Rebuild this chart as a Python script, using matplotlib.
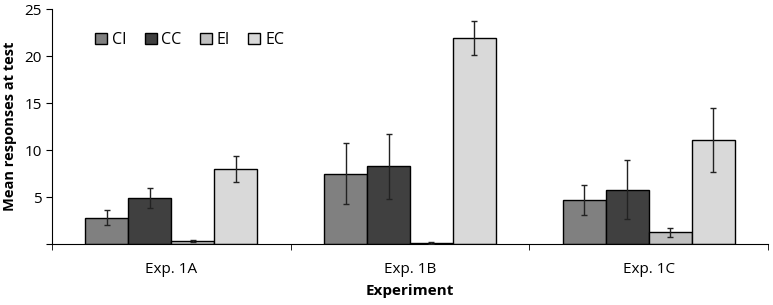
import matplotlib.pyplot as plt
import numpy as np

plt.rcParams['font.family'] = ['Open Sans', 'DejaVu Sans']

experiments = ['Exp. 1A', 'Exp. 1B', 'Exp. 1C']
conditions = ['CI', 'CC', 'EI', 'EC']
colors = ['#808080', '#404040', '#c0c0c0', '#d9d9d9']

# mean responses per condition, one value per experiment
means = {
    'CI': [2.8, 7.5, 4.7],
    'CC': [4.9, 8.3, 5.8],
    'EI': [0.3, 0.1, 1.25],
    'EC': [8.0, 22.0, 11.1],
}
errors = {
    'CI': [0.8, 3.25, 1.6],
    'CC': [1.05, 3.45, 3.15],
    'EI': [0.1, 0.08, 0.5],
    'EC': [1.4, 1.8, 3.45],
}

fig = plt.figure(figsize=(7.73, 3.05), dpi=100)
ax = fig.add_axes([52 / 773, 61 / 305, 716 / 773, 234.5 / 305])

x = np.arange(len(experiments))
width = 0.18
for i, (cond, col) in enumerate(zip(conditions, colors)):
    pos = x + (i - 1.5) * width
    ax.bar(pos, means[cond], width, color=col, edgecolor='black',
           linewidth=1, label=cond, zorder=2)
    ax.errorbar(pos, means[cond], yerr=errors[cond], fmt='none',
                ecolor='#222222', elinewidth=1, capsize=2.5, capthick=1,
                zorder=3)

ax.set_xlim(-0.5, len(experiments) - 0.5)
ax.set_ylim(0, 25)
ax.set_yticks([0, 5, 10, 15, 20, 25])
ax.set_yticklabels(['', '5', '10', '15', '20', '25'])
ax.set_xticks(x)
ax.set_xticklabels(experiments)
ax.tick_params(axis='x', which='major', length=0, pad=13, labelsize=11)
ax.set_xticks(np.arange(len(experiments) + 1) - 0.5, minor=True)
ax.tick_params(axis='x', which='minor', length=4, direction='out')
ax.tick_params(axis='y', length=4, direction='out', labelsize=11)

for s in ['top', 'right']:
    ax.spines[s].set_visible(False)

ax.set_ylabel('Mean responses at test', fontweight='bold', fontsize=10.5,
              labelpad=5)
ax.set_xlabel('Experiment', fontweight='bold', fontsize=11, labelpad=5)

ax.legend(loc='upper left', ncol=4, frameon=False, fontsize=11.5,
          handlelength=0.75, handleheight=0.75, handletextpad=0.3,
          columnspacing=1.15, bbox_to_anchor=(0.04, 0.965))

fig.savefig('out.png', dpi=100)
